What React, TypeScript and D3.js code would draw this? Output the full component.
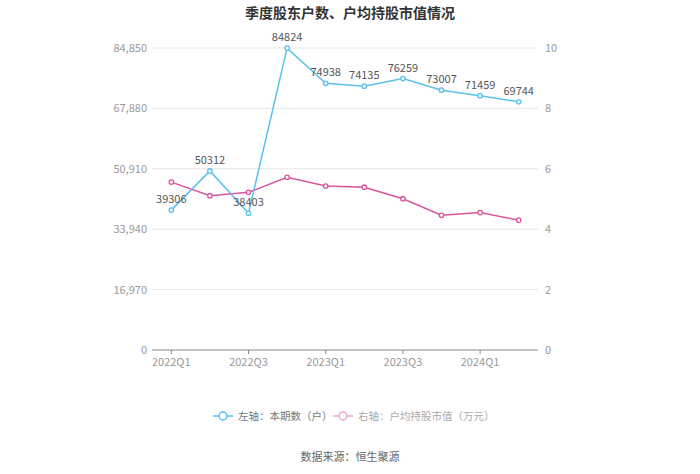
import React from "react";
import * as d3 from "d3";

const quarters = ["2022Q1","2022Q2","2022Q3","2022Q4","2023Q1","2023Q2","2023Q3","2023Q4","2024Q1","2024Q2"];
const holders = [39306, 50312, 38403, 84824, 74938, 74135, 76259, 73007, 71459, 69744];
const avgValue = [5.56, 5.11, 5.22, 5.72, 5.43, 5.39, 5.01, 4.46, 4.55, 4.30];
const leftTicks = [0, 16970, 33940, 50910, 67880, 84850];
const rightTicks = [0, 2, 4, 6, 8, 10];
const xLabelIdx = [0, 2, 4, 6, 8];

const BLUE = "#5bc0eb";
const PINK = "#d9559b";
const FONT = "'Microsoft YaHei','Noto Sans CJK SC',sans-serif";

export default function App() {
  const W = 700, H = 474;
  const left = 152, right = 538, top = 48, bottom = 350;
  const x = d3.scaleBand<string>().domain(quarters).range([left, right]);
  const cx = (q: string) => (x(q) as number) + x.bandwidth() / 2;
  const yL = d3.scaleLinear().domain([0, 84850]).range([bottom, top]);
  const yR = d3.scaleLinear().domain([0, 10]).range([bottom, top]);
  const lineL = d3.line<number>().x((_, i) => cx(quarters[i])).y(d => yL(d));
  const lineR = d3.line<number>().x((_, i) => cx(quarters[i])).y(d => yR(d));

  return (
    <svg width={W} height={H} style={{ position: "absolute", left: 0, top: 0, fontFamily: FONT }}>
      <rect width={W} height={H} fill="#fff" />
      <text x={350} y={18} textAnchor="middle" fontSize={14} fontWeight="bold" fill="#333">季度股东户数、户均持股市值情况</text>
      {leftTicks.map((t, i) => (
        <g key={t}>
          {i > 0 && <line x1={left} x2={right} y1={yL(t)} y2={yL(t)} stroke="#e6e6e6" />}
          <text x={147} y={yL(t) + 4} textAnchor="end" fontSize={11} fill="#999">{d3.format(",")(t)}</text>
        </g>
      ))}
      {rightTicks.map(t => (
        <text key={t} x={545} y={yR(t) + 4} textAnchor="start" fontSize={11} fill="#999">{t}</text>
      ))}
      <line x1={left} x2={right} y1={bottom} y2={bottom} stroke="#888" />
      {xLabelIdx.map(i => (
        <g key={i}>
          <line x1={cx(quarters[i])} x2={cx(quarters[i])} y1={bottom} y2={bottom + 4} stroke="#888" />
          <text x={cx(quarters[i])} y={bottom + 16} textAnchor="middle" fontSize={11} fill="#999">{quarters[i]}</text>
        </g>
      ))}
      <path d={lineR(avgValue) || ""} fill="none" stroke={PINK} strokeWidth={1.5} />
      {avgValue.map((v, i) => (
        <circle key={i} cx={cx(quarters[i])} cy={yR(v)} r={2.2} fill="#fff" stroke={PINK} strokeWidth={1.3} />
      ))}
      <path d={lineL(holders) || ""} fill="none" stroke={BLUE} strokeWidth={1.5} />
      {holders.map((v, i) => (
        <circle key={i} cx={cx(quarters[i])} cy={yL(v)} r={2.2} fill="#fff" stroke={BLUE} strokeWidth={1.3} />
      ))}
      {holders.map((v, i) => (
        <text key={i} x={cx(quarters[i])} y={yL(v) - 7} textAnchor="middle" fontSize={11} fill="#555">{v}</text>
      ))}
      <g>
        <line x1={213} x2={233} y1={416} y2={416} stroke={BLUE} strokeWidth={1.5} />
        <circle cx={223} cy={416} r={4} fill="#fff" stroke={BLUE} strokeWidth={1.5} />
        <text x={238} y={420} fontSize={10.5} fill="#777">左轴：本期数（户）</text>
        <line x1={333} x2={353} y1={416} y2={416} stroke="#e8a8cc" strokeWidth={1.5} />
        <circle cx={343} cy={416} r={4} fill="#fff" stroke="#e8a8cc" strokeWidth={1.5} />
        <text x={358} y={420} fontSize={10.5} fill="#aaa">右轴：户均持股市值（万元）</text>
      </g>
      <text x={350} y={461} textAnchor="middle" fontSize={11} fill="#666">数据来源：恒生聚源</text>
    </svg>
  );
}
